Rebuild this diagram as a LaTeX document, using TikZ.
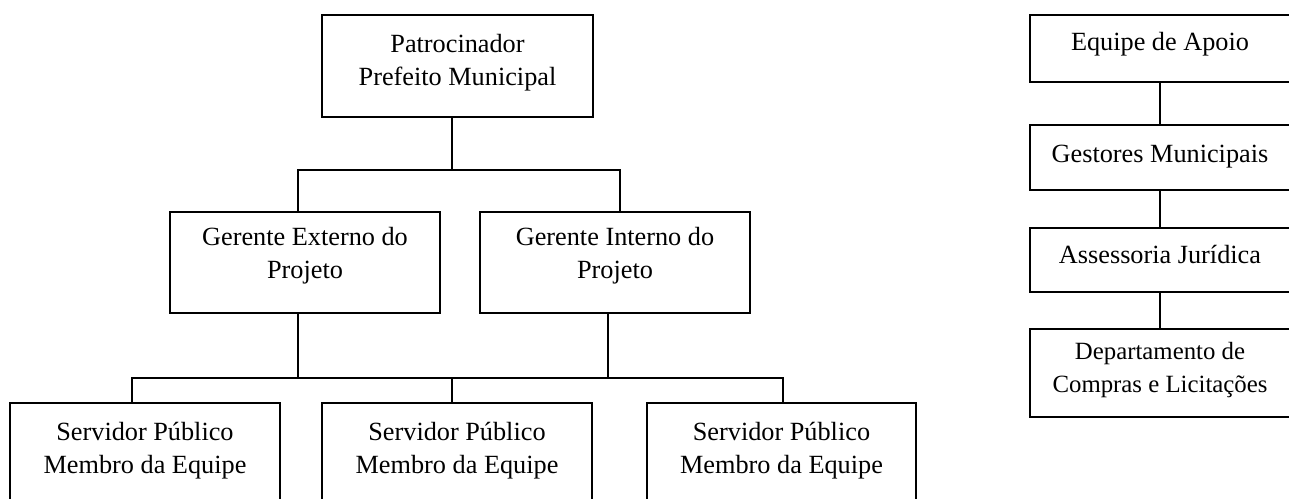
\documentclass[tikz,border=0pt]{standalone}
\usepackage{fontspec}
\setmainfont{Liberation Serif}
\begin{document}
\begin{tikzpicture}[x=0.75pt,y=-0.75pt,
  box/.style={draw=black, line width=1.5pt, rectangle, inner sep=0pt, fill=white},
  lbl/.style={anchor=north, align=center, inner sep=0pt, font=\fontsize{19.7}{24.75}\selectfont},
  slbl/.style={anchor=north, align=center, inner sep=0pt, font=\fontsize{18.6}{24.75}\selectfont},
  conn/.style={draw=black, line width=1.5pt}]
\useasboundingbox (0,0) rectangle (1289,499);
\clip (0,0) rectangle (1289,499);
% boxes
\node[box, minimum width=203.25pt, minimum height=76.5pt] (top) at (457.5,66) {};
\node[box, minimum width=202.5pt, minimum height=75.75pt] (ge) at (305,262.5) {};
\node[box, minimum width=202.5pt, minimum height=75.75pt] (gi) at (615,262.5) {};
\node[box, minimum width=202.5pt, minimum height=76.5pt] (s1) at (145,454) {};
\node[box, minimum width=202.5pt, minimum height=76.5pt] (s2) at (457,454) {};
\node[box, minimum width=201.75pt, minimum height=76.5pt] (s3) at (781.5,454) {};
\node[box, minimum width=195pt, minimum height=50.25pt] (e1) at (1160,48.5) {};
\node[box, minimum width=195pt, minimum height=48.75pt] (e2) at (1160,157.5) {};
\node[box, minimum width=195pt, minimum height=48pt] (e3) at (1160,260) {};
\node[box, minimum width=195pt, minimum height=66pt] (e4) at (1160,373) {};
% labels
\node[lbl] (ttop) at (457.5,34) {Patrocinador\\Prefeito Municipal};
\node[lbl] (tge) at (305,227) {Gerente Externo do\\Projeto};
\node[lbl] (tgi) at (615,227) {Gerente Interno do\\Projeto};
\node[lbl] (ts1) at (145,422) {Servidor Público\\Membro da Equipe};
\node[lbl] (ts2) at (457,422) {Servidor Público\\Membro da Equipe};
\node[lbl] (ts3) at (781.5,422) {Servidor Público\\Membro da Equipe};
\node[lbl] (te1) at (1160,32) {Equipe de Apoio};
\node[lbl] (te2) at (1160,145) {Gestores Municipais};
\node[lbl] (te3) at (1160,245) {Assessoria Jurídica};
\node[slbl] (te4) at (1160,342) {Departamento de\\Compras e Licitações};
% connector coordinates
\coordinate (b1) at (452,170);
\coordinate (b1l) at (298,170);
\coordinate (b1r) at (620,170);
\coordinate (b2a) at (298,378);
\coordinate (b2b) at (608,378);
\coordinate (b2l) at (132,378);
\coordinate (b2m) at (452,378);
\coordinate (b2r) at (783,378);
% connectors
\draw[conn] (top.south -| b1) -- (b1);
\draw[conn] (ge.north -| b1l) -- (b1l) -- (b1r) -- (gi.north -| b1r);
\draw[conn] (ge.south -| b2a) -- (b2a);
\draw[conn] (gi.south -| b2b) -- (b2b);
\draw[conn] (s1.north -| b2l) -- (b2l) -- (b2r) -- (s3.north -| b2r);
\draw[conn] (b2m) -- (s2.north -| b2m);
\draw[conn] (e1.south) -- (e2.north);
\draw[conn] (e2.south) -- (e3.north);
\draw[conn] (e3.south) -- (e4.north);
\end{tikzpicture}
\end{document}
